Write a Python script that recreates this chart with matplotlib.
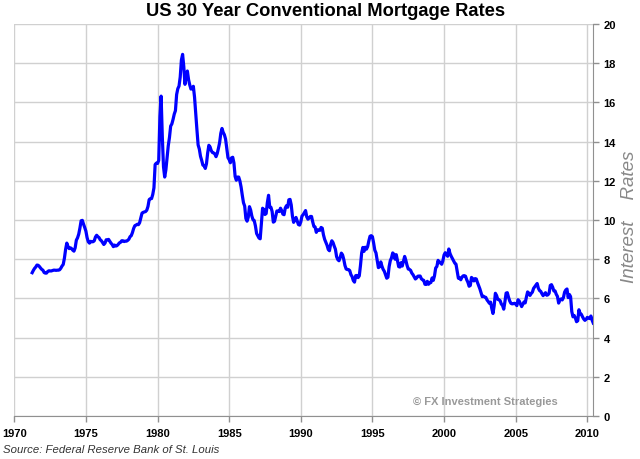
import numpy as np
import matplotlib.pyplot as plt

# monthly 30y conventional mortgage rate, starting April 1971
start_year = 1971
start_month = 4
rates = [
    7.31, 7.43, 7.53, 7.60, 7.70, 7.69, 7.63, 7.55, 7.48,
    7.44, 7.32, 7.29, 7.29, 7.37, 7.41, 7.40, 7.40, 7.42, 7.44, 7.44, 7.43,
    7.44, 7.44, 7.46, 7.54, 7.65, 7.73, 8.05, 8.50, 8.82, 8.65, 8.54, 8.58,
    8.54, 8.46, 8.41, 8.58, 8.97, 9.09, 9.28, 9.59, 9.96, 9.98, 9.79, 9.62,
    9.43, 9.10, 8.89, 8.82, 8.91, 8.89, 8.89, 8.94, 9.13, 9.22, 9.15, 9.10,
    8.99, 8.94, 8.85, 8.75, 8.82, 8.99, 8.99, 9.01, 8.91, 8.82, 8.75, 8.64,
    8.72, 8.67, 8.69, 8.75, 8.83, 8.86, 8.94, 8.94, 8.90, 8.92, 8.92, 8.96,
    9.02, 9.15, 9.20, 9.36, 9.57, 9.71, 9.74, 9.78, 9.76, 9.86, 10.11, 10.35,
    10.39, 10.41, 10.43, 10.50, 10.69, 11.04, 11.09, 11.09, 11.30, 11.64, 12.83, 12.90,
    12.88, 13.04, 15.28, 16.32, 14.26, 12.71, 12.19, 12.56, 13.20, 13.79, 14.21, 14.79,
    14.90, 15.13, 15.40, 15.58, 16.40, 16.70, 16.83, 17.29, 18.16, 18.45, 17.83, 16.92,
    17.40, 17.60, 17.16, 16.89, 16.68, 16.70, 16.82, 16.27, 15.43, 14.61, 13.83, 13.62,
    13.25, 13.04, 12.80, 12.78, 12.63, 12.87, 13.42, 13.81, 13.73, 13.54, 13.44, 13.42,
    13.37, 13.23, 13.39, 13.65, 13.94, 14.42, 14.67, 14.47, 14.35, 14.13, 13.64, 13.18,
    13.08, 12.92, 13.17, 13.20, 12.91, 12.22, 12.03, 12.19, 12.19, 11.99, 11.68, 11.26,
    10.88, 10.71, 10.08, 9.94, 10.14, 10.68, 10.51, 10.20, 10.01, 9.97, 9.70, 9.31,
    9.20, 9.08, 9.04, 9.83, 10.60, 10.54, 10.28, 10.33, 10.89, 11.26, 10.65, 10.65,
    10.43, 9.89, 9.93, 10.20, 10.46, 10.46, 10.43, 10.60, 10.48, 10.30, 10.27, 10.61,
    10.73, 10.65, 11.03, 11.05, 10.77, 10.20, 9.88, 9.99, 10.13, 9.95, 9.77, 9.74,
    9.90, 10.20, 10.27, 10.37, 10.48, 10.16, 10.04, 10.10, 10.18, 10.18, 9.90, 9.67,
    9.64, 9.37, 9.50, 9.49, 9.47, 9.62, 9.58, 9.24, 9.01, 8.86, 8.71, 8.50,
    8.43, 8.76, 8.94, 8.85, 8.67, 8.51, 8.13, 7.98, 7.92, 8.09, 8.31, 8.22,
    7.99, 7.68, 7.50, 7.47, 7.47, 7.42, 7.21, 7.11, 6.91, 6.83, 7.16, 7.17,
    7.06, 7.15, 7.68, 8.32, 8.60, 8.40, 8.61, 8.51, 8.64, 8.93, 9.17, 9.20,
    9.15, 8.83, 8.46, 8.32, 7.96, 7.57, 7.61, 7.86, 7.64, 7.48, 7.38, 7.20,
    7.03, 7.08, 7.62, 7.93, 8.07, 8.32, 8.25, 8.00, 8.23, 7.92, 7.62, 7.60,
    7.82, 7.65, 7.90, 8.14, 7.94, 7.69, 7.50, 7.48, 7.43, 7.29, 7.21, 7.10,
    6.99, 7.04, 7.13, 7.14, 7.14, 7.00, 6.95, 6.92, 6.72, 6.71, 6.87, 6.72,
    6.79, 6.81, 7.04, 6.92, 7.15, 7.55, 7.63, 7.94, 7.82, 7.85, 7.74, 7.91,
    8.21, 8.33, 8.24, 8.15, 8.52, 8.29, 8.15, 8.03, 7.91, 7.80, 7.75, 7.38,
    7.03, 7.05, 6.95, 7.08, 7.15, 7.16, 7.13, 6.95, 6.82, 6.62, 6.66, 7.07,
    7.00, 6.89, 7.01, 6.99, 6.81, 6.65, 6.49, 6.29, 6.09, 6.11, 6.07, 6.05,
    5.92, 5.84, 5.75, 5.81, 5.48, 5.23, 5.63, 6.26, 6.15, 5.95, 5.93, 5.88,
    5.71, 5.64, 5.45, 5.83, 6.27, 6.29, 6.06, 5.87, 5.75, 5.72, 5.73, 5.75,
    5.71, 5.63, 5.93, 5.86, 5.72, 5.58, 5.70, 5.82, 5.77, 6.07, 6.33, 6.27,
    6.15, 6.25, 6.32, 6.51, 6.60, 6.68, 6.76, 6.52, 6.40, 6.36, 6.24, 6.14,
    6.22, 6.29, 6.16, 6.18, 6.26, 6.66, 6.70, 6.57, 6.38, 6.38, 6.21, 6.10,
    5.76, 5.92, 5.97, 5.92, 6.04, 6.32, 6.43, 6.48, 6.04, 6.20, 6.09, 5.33,
    5.06, 5.13, 5.00, 4.81, 4.86, 5.42, 5.22, 5.19, 5.06, 4.95, 4.88, 4.93,
    5.03, 4.99, 4.97, 5.10, 4.89, 4.74,
]
year_ticks = list(range(1970, 2011, 5))
rate_ticks = list(range(0, 21, 2))

title = "US 30 Year Conventional Mortgage Rates"
source = "Source: Federal Reserve Bank of St. Louis"
credit = "\u00a9 FX Investment Strategies"

plt.rcParams['font.family'] = ['Liberation Sans', 'DejaVu Sans']

x = start_year + (start_month - 1) / 12 + np.arange(len(rates)) / 12

fig = plt.figure(figsize=(6.4, 4.6), dpi=100)
ax = fig.add_axes([0.0223, 0.0935, 0.9043, 0.8522])

ax.plot(x, rates, color='#0000ff', lw=2.3, zorder=3)

ax.set_xlim(1970, 2010.4)
ax.set_ylim(0, 20)
ax.set_xticks(year_ticks)
ax.set_yticks(rate_ticks)
ax.grid(True, color='#d0d0d0', lw=1)
ax.set_axisbelow(True)

ax.yaxis.tick_right()
for s in ['left', 'top']:
    ax.spines[s].set_visible(False)
for s in ['bottom', 'right']:
    ax.spines[s].set_color('#909090')
ax.tick_params(axis='both', colors='#909090', labelcolor='black', length=4, width=1)
ax.tick_params(axis='x', pad=4.5)
ax.tick_params(axis='y', pad=3.5)
for lab in ax.get_xticklabels() + ax.get_yticklabels():
    lab.set_fontweight('bold')
    lab.set_fontsize(8)

fig.text(0.508, 1 - 11 / 460, title, ha='center', va='center',
         fontsize=13.2, fontweight='bold')
fig.text(3 / 640, 1 - 450 / 460, source, ha='left', va='center',
         fontsize=8.2, style='italic', color='#333333')
fig.text(413 / 640, 1 - 402 / 460, credit, ha='left', va='center',
         fontsize=8, fontweight='bold', color='#999999')
fig.text(629 / 640, 1 - 217 / 460, "Interest    Rates", rotation=90,
         ha='center', va='center', fontsize=13.5, style='italic', color='#888888')

fig.savefig('out.png', dpi=100)
